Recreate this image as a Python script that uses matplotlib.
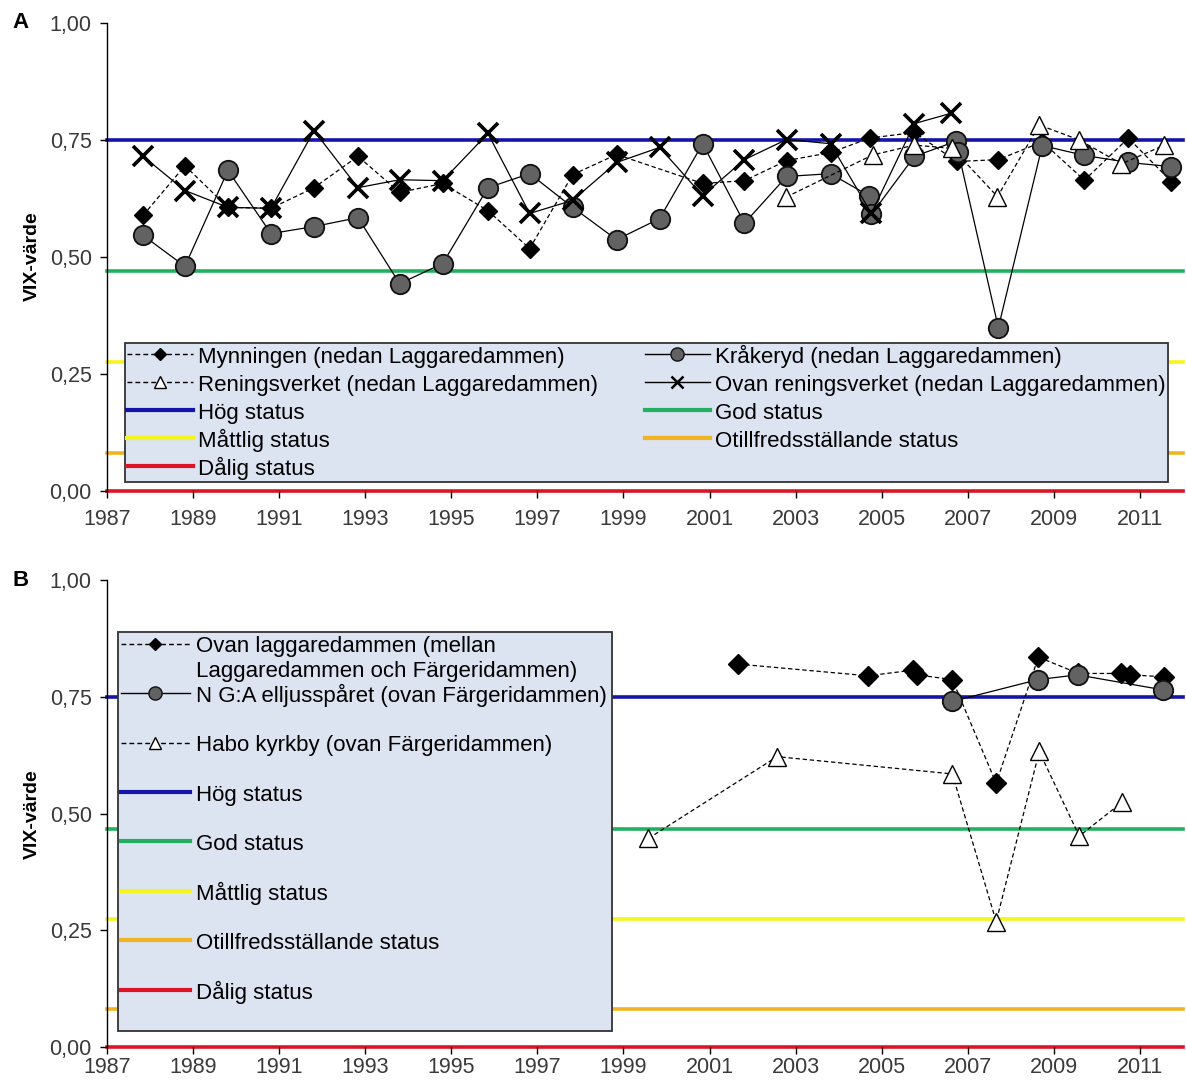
import matplotlib
matplotlib.use("Agg")
import matplotlib.pyplot as plt
from matplotlib.lines import Line2D
from matplotlib.ticker import FuncFormatter

plt.rcParams['font.family'] = ['Liberation Sans', 'DejaVu Sans']

# ---------------- Data: panel A ----------------
myn_x = [1987.84, 1988.81, 1989.81, 1990.81, 1991.81, 1992.83, 1993.80, 1994.80, 1995.85,
         1996.82, 1997.82, 1998.84, 2000.84, 2001.81, 2002.79, 2003.81, 2004.72, 2005.76,
         2006.74, 2007.71, 2008.73, 2009.71, 2010.73, 2011.73]
myn_y = [0.588, 0.694, 0.605, 0.603, 0.647, 0.714, 0.637, 0.656, 0.598,
         0.517, 0.675, 0.718, 0.656, 0.662, 0.705, 0.722, 0.753, 0.765,
         0.703, 0.707, 0.745, 0.663, 0.753, 0.660]

kra_x = [1987.84, 1988.81, 1989.81, 1990.81, 1991.81, 1992.83, 1993.80, 1994.80, 1995.85,
         1996.82, 1997.82, 1998.84, 1999.84, 2000.84, 2001.81, 2002.79, 2003.81, 2004.70,
         2004.76, 2005.76, 2006.72, 2006.78, 2007.71, 2008.73, 2009.71, 2010.73, 2011.73]
kra_y = [0.545, 0.479, 0.684, 0.549, 0.564, 0.583, 0.442, 0.485, 0.647,
         0.677, 0.605, 0.536, 0.581, 0.741, 0.571, 0.671, 0.677, 0.630,
         0.590, 0.714, 0.746, 0.723, 0.348, 0.737, 0.716, 0.701, 0.692]

ren_x = [2002.78, 2004.79, 2005.76, 2006.64, 2007.69, 2008.66, 2009.59, 2010.57, 2011.57]
ren_y = [0.627, 0.717, 0.738, 0.731, 0.628, 0.781, 0.749, 0.698, 0.738]

ovr_x = [1987.84, 1988.81, 1989.81, 1990.81, 1991.81, 1992.83, 1993.80, 1994.80, 1995.85,
         1996.82, 1997.82, 1998.84, 1999.84, 2000.84, 2001.81, 2002.79, 2003.81, 2004.76,
         2005.76, 2006.61]
ovr_y = [0.714, 0.641, 0.605, 0.603, 0.769, 0.647, 0.664, 0.662, 0.763,
         0.592, 0.620, 0.701, 0.733, 0.630, 0.707, 0.750, 0.741, 0.592,
         0.784, 0.806]

# ---------------- Data: panel B ----------------
ovl_x = [2001.67, 2004.68, 2005.72, 2005.82, 2006.64, 2007.66, 2008.64, 2009.57, 2010.55, 2010.77, 2011.55]
ovl_y = [0.820, 0.795, 0.807, 0.797, 0.787, 0.565, 0.835, 0.800, 0.800, 0.797, 0.793]

nga_x = [2006.63, 2008.64, 2009.55, 2011.53]
nga_y = [0.740, 0.787, 0.797, 0.765]

hab_x = [1999.58, 2002.57, 2006.64, 2007.66, 2008.66, 2009.59, 2010.58]
hab_y = [0.447, 0.622, 0.585, 0.269, 0.633, 0.452, 0.524]

# status class boundaries
status_names = ['Hög status', 'God status', 'Måttlig status', 'Otillfredsställande status', 'Dålig status']
status_vals = [0.75, 0.468, 0.275, 0.081, 0.0]
status_cols = ['#1414A8', '#22B060', '#F4F41E', '#F0B422', '#DC1426']

xticks = list(range(1987, 2012, 2))
yticks = [0.0, 0.25, 0.5, 0.75, 1.0]

W, H = 1186, 1084
fig = plt.figure(figsize=(W / 100, H / 100), dpi=100)
axA = fig.add_axes([107 / W, 1 - 490.5 / H, 1076 / W, 468 / H])
axB = fig.add_axes([107 / W, 1 - 1047.3 / H, 1076 / W, 467.3 / H])

DASH = (0, (3.5, 2.2))
LW = 0.9
LFS = 16  # legend font size


def style_axis(ax, xpad):
    ax.set_xlim(1987, 2012)
    ax.set_ylim(0, 1)
    ax.set_xticks(xticks)
    ax.set_yticks(yticks)
    ax.yaxis.set_major_formatter(FuncFormatter(lambda v, p: f"{v:.2f}".replace('.', ',')))
    for s in ['top', 'right', 'bottom']:
        ax.spines[s].set_visible(False)
    ax.spines['left'].set_linewidth(1.0)
    ax.tick_params(axis='both', direction='out', length=5, width=1, labelsize=15.5,
                   labelcolor='#3a3a3a')
    ax.tick_params(axis='x', pad=xpad)
    ax.tick_params(axis='y', pad=6)
    ax.set_ylabel('VIX-värde', fontsize=14, fontweight='bold', labelpad=6)
    for v, c in zip(status_vals, status_cols):
        ax.axhline(v, color=c, lw=2.6, zorder=1.5, clip_on=False)


style_axis(axA, 8)
style_axis(axB, 2)

# Panel A series
axA.plot(myn_x, myn_y, ls=DASH, lw=LW, color='k', marker='D', ms=9.5, mfc='k', mec='k', zorder=3)
axA.plot(kra_x, kra_y, ls='-', lw=LW, color='k', marker='o', ms=14, mfc='#626262', mec='#111111', mew=1.3, zorder=3.2)
axA.plot(ren_x, ren_y, ls=DASH, lw=LW, color='k', marker='^', ms=12.5, mfc='white', mec='k', mew=1.0, zorder=3.4)
axA.plot(ovr_x, ovr_y, ls='-', lw=LW, color='k', marker='x', ms=14, mec='k', mew=2.6, zorder=3.6)

# Panel B series
axB.plot(ovl_x, ovl_y, ls=DASH, lw=LW, color='k', marker='D', ms=10, mfc='k', mec='k', zorder=3)
axB.plot(nga_x, nga_y, ls='-', lw=LW, color='k', marker='o', ms=14, mfc='#626262', mec='#111111', mew=1.3, zorder=3.2)
axB.plot(hab_x, hab_y, ls=DASH, lw=LW, color='k', marker='^', ms=12.5, mfc='white', mec='k', mew=1.0, zorder=3.4)


# Legend handles
def h_diam():
    return Line2D([], [], ls=DASH, lw=1.0, color='k', marker='D', ms=6.5, mfc='k', mec='k')

def h_circ():
    return Line2D([], [], ls='-', lw=1.0, color='k', marker='o', ms=9.5, mfc='#626262', mec='#111111')

def h_tri():
    return Line2D([], [], ls=DASH, lw=1.0, color='k', marker='^', ms=9, mfc='white', mec='k')

def h_x():
    return Line2D([], [], ls='-', lw=1.0, color='k', marker='x', ms=8.5, mec='k', mew=1.8)

def h_stat(c):
    return Line2D([], [], ls='-', lw=3, color=c)

def h_blank():
    return Line2D([], [], ls='none', marker='none')


def style_legend(leg):
    fr = leg.get_frame()
    fr.set_facecolor('#DCE3F1')
    fr.set_edgecolor('#333333')
    fr.set_linewidth(1.3)
    fr.set_alpha(1)
    leg.set_zorder(10)


legA_handles = [h_diam(), h_tri(), h_stat(status_cols[0]), h_stat(status_cols[2]), h_stat(status_cols[4]),
                h_circ(), h_x(), h_stat(status_cols[1]), h_stat(status_cols[3])]
legA_labels = ['Mynningen (nedan Laggaredammen)', 'Reningsverket (nedan Laggaredammen)',
               status_names[0], status_names[2], status_names[4],
               'Kråkeryd (nedan Laggaredammen)', 'Ovan reningsverket (nedan Laggaredammen)',
               status_names[1], status_names[3]]
legA = axA.legend(legA_handles, legA_labels, ncol=2, mode='expand', loc='upper left',
                  bbox_to_anchor=(18 / 1076, (490.5 - 343) / 468, 1043 / 1076, 0),
                  fontsize=LFS, frameon=True, fancybox=False, handlelength=2.95, handletextpad=0.22,
                  handleheight=1.1, labelspacing=0.21, borderpad=0.1, borderaxespad=0,
                  columnspacing=1.0)
style_legend(legA)

legB_handles = [h_diam(), h_blank(), h_circ(), h_blank(), h_tri(), h_blank()]
legB_labels = ['Ovan laggaredammen (mellan', 'Laggaredammen och Färgeridammen)',
               'N G:A elljusspåret (ovan Färgeridammen)', ' ',
               'Habo kyrkby (ovan Färgeridammen)', ' ']
for nm, c in zip(status_names, status_cols):
    legB_handles += [h_stat(c), h_blank()]
    legB_labels += [nm, ' ']
legB = axB.legend(legB_handles, legB_labels, ncol=1, mode='expand', loc='upper left',
                  bbox_to_anchor=(11 / 1076, (1047.3 - 632) / 467.3, 494 / 1076, 0),
                  fontsize=LFS, frameon=True, fancybox=False, handlelength=3.1, handletextpad=0.27,
                  handleheight=1.0, labelspacing=0.092, borderpad=0.13, borderaxespad=0)
style_legend(legB)

fig.text(12 / W, 1 - 22 / H, 'A', fontsize=16, fontweight='bold', va='center', ha='left')
fig.text(12 / W, 1 - 580 / H, 'B', fontsize=16, fontweight='bold', va='center', ha='left')

fig.savefig('out.png', dpi=100, facecolor='white')
